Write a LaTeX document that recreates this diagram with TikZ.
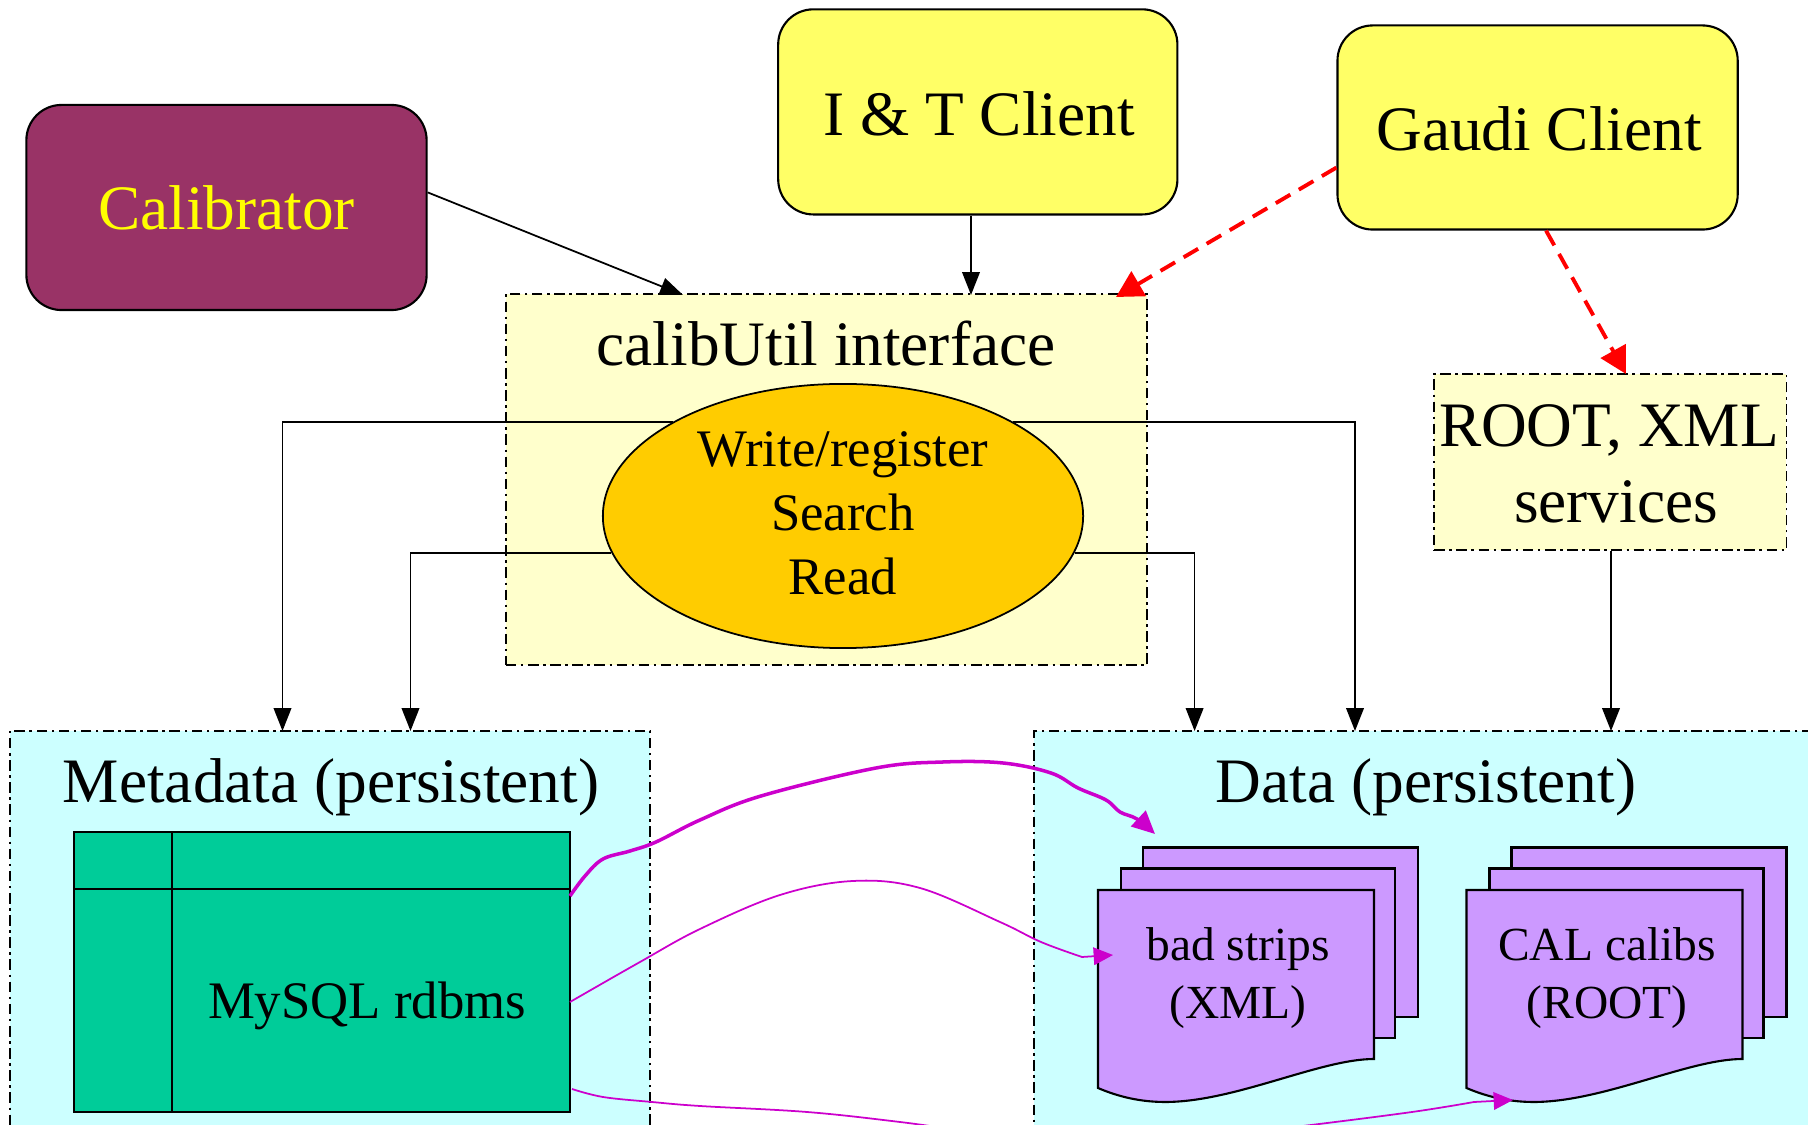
\documentclass[tikz,border=0pt]{standalone}
\usepackage{fontspec}
\setmainfont{Liberation Serif}
\usetikzlibrary{arrows.meta,shapes.geometric}
\definecolor{calibc}{HTML}{993366}
\definecolor{yel}{HTML}{FFFF66}
\definecolor{pale}{HTML}{FFFFCC}
\definecolor{goldc}{HTML}{FFCC00}
\definecolor{cyanbg}{HTML}{CCFFFF}
\definecolor{tblgreen}{HTML}{00CC99}
\definecolor{docpurple}{HTML}{CC99FF}
\definecolor{magc}{HTML}{CC00CC}
\definecolor{titleyel}{HTML}{FFFF00}
\begin{document}
\begin{tikzpicture}[x=0.01cm,y=-0.01cm,
  fA/.style={font=\fontsize{18}{21.6}\selectfont},
  fB/.style={font=\fontsize{15}{18}\selectfont},
  fC/.style={font=\fontsize{13.5}{16}\selectfont},
  txt/.style={anchor=base, inner sep=0pt},
  client/.style={draw=black, line width=0.6pt, rounded corners=10pt, fill=yel, inner sep=0pt},
  dashbox/.style={draw=black, line width=0.45pt, dash pattern=on 3pt off 1.3pt on 0.7pt off 1.3pt, inner sep=0pt},
  conn/.style={line width=0.5pt, -{Triangle[length=6.5pt,width=5pt]}},
  redconn/.style={red, line width=1.1pt, dash pattern=on 4.8pt off 2.8pt, -{Triangle[length=7.5pt,width=8pt]}},
  magthick/.style={magc, line width=1pt, -{Triangle[length=6.5pt,width=6pt]}},
  magthin/.style={magc, line width=0.5pt, -{Triangle[length=5.5pt,width=5pt]}},
  pagest/.style={draw=black, line width=0.6pt, fill=docpurple}
]
\useasboundingbox (0,0) rectangle (1808,1125);
\clip (0,0) rectangle (1808,1125);

% persistent areas
\node[dashbox, fill=cyanbg, minimum width=6.4cm, minimum height=4.4cm] (meta) at (330,951) {};
\node[dashbox, fill=cyanbg, minimum width=8cm, minimum height=4.4cm] (data) at (1434.3,951) {};
\node[txt, fA] (metat) at (331,803) {Metadata (persistent)};
\node[txt, fA] (datat) at (1426,803) {Data (persistent)};

% MySQL table
\node[draw=black, line width=0.7pt, fill=tblgreen, minimum width=4.96cm, minimum height=2.8cm, inner sep=0pt] (tbl) at (321.9,972) {};
\draw[line width=0.7pt] (73.8,889) -- (569.6,889);
\draw[line width=0.7pt] (172,832) -- (172,1112);
\node[txt, fB] (tbltxt) at (367,1019) {MySQL rdbms};

% document stacks
\foreach \dx in {0,368.5}{
  \begin{scope}[shift={(\dx,0)}]
    \draw[pagest] (1143,847.5) rectangle (1418,1017);
    \draw[pagest] (1121,868.5) rectangle (1395,1038);
    \draw[pagest] (1098,890) -- (1374,890) -- (1374,1059)
      .. controls (1320,1059) and (1235,1102) .. (1165,1102)
      .. controls (1135,1102) and (1112,1094) .. (1098,1088) -- cycle;
  \end{scope}
}
\node[txt, fC] (bs1) at (1238,961) {bad strips};
\node[txt, fC] (bs2) at (1238,1019) {(XML)};
\node[txt, fC] (cc1) at (1607,961) {CAL calibs};
\node[txt, fC] (cc2) at (1607,1019) {(ROOT)};

% calibUtil interface
\node[dashbox, fill=pale, minimum width=6.41cm, minimum height=3.71cm] (cu) at (826.5,479.5) {};
\node[txt, fA] (cut) at (826,366) {calibUtil interface};
\node[draw=black, line width=0.5pt, fill=goldc, ellipse, minimum width=4.8cm, minimum height=2.64cm, inner sep=0pt] (ell) at (843,516) {};
\node[txt, fB] (e1) at (843,467) {Write/register};
\node[txt, fB] (e2) at (843,531) {Search};
\node[txt, fB] (e3) at (843,595) {Read};

% ROOT, XML services
\node[dashbox, fill=pale, minimum width=3.52cm, minimum height=1.76cm] (rx) at (1610.3,461.8) {};
\node[txt, fA] (rx1) at (1609,447) {ROOT, XML};
\node[txt, fA] (rx2) at (1616,523) {services};

% clients
\node[client, fill=calibc, minimum width=4cm, minimum height=2.05cm] (cal) at (226.5,207.5) {};
\node[txt, fA, text=titleyel] (calt) at (226.6,230) {Calibrator};
\node[client, minimum width=3.99cm, minimum height=2.05cm] (it) at (977.8,111.9) {};
\node[txt, fA] (itt) at (979,136) {I \& T Client};
\node[client, minimum width=4cm, minimum height=2.04cm] (gc) at (1537.6,127.5) {};
\node[txt, fA] (gct) at (1539,151) {Gaudi Client};

% coordinates for arrow ends
\coordinate (cuA) at (683,295);
\coordinate (cuB) at (971,295);
\coordinate (cuC) at (1116,297);
\coordinate (rxA) at (1626,374);
\coordinate (mA) at (282.5,731);
\coordinate (mB) at (410.5,731);
\coordinate (dA) at (1194.6,731);
\coordinate (dB) at (1355,731);
\coordinate (dC) at (1611,731);

% black connectors
\draw[conn] ([yshift=4.3pt]cal.east) -- (cuA);
\draw[conn] (it.south -| cuB) -- (cuB);
\draw[conn] (ell.151) -| (mA);
\draw[conn] (ell.189) -| (mB);
\draw[conn] (ell.29) -| (dB);
\draw[conn] (ell.351) -| (dA);
\draw[conn] (rx.south -| dC) -- (dC);

% red dashed connectors
\draw[redconn] ([yshift=-11.4pt]gc.west) -- (cuC);
\draw[redconn] ([xshift=2.4pt]gc.south) -- (rxA);

% magenta connectors
\coordinate (m1s) at (570,896);
\coordinate (m1e) at (1155,834);
\coordinate (m2s) at (570,1002);
\coordinate (m2e) at (1113,955);
\coordinate (m3s) at (572,1089);
\coordinate (m3e) at (1513,1100);
\draw[magthick] plot[smooth, tension=0.6] coordinates {(m1s) (585,876) (603,859) (630,851) (656,842) (700,820) (761,796) (876,768) (943,762) (1003,763) (1051,773) (1078,788) (1106,800) (1120,812) (1137,819) (m1e)};
\draw[magthin] plot[smooth, tension=0.6] coordinates {(m2s) (640,962) (700,929) (780,895) (853,881) (920,888) (1000,922) (1041,942) (1082,957)} -- (m2e);
\draw[magthin] plot[smooth, tension=0.6] coordinates {(m3s) (603,1097) (652,1102) (700,1106) (807,1112) (900,1122) (1000,1135) (1100,1140) (1200,1138) (1303,1126) (1412,1112) (1474,1102)} -- (m3e);
\end{tikzpicture}
\end{document}
